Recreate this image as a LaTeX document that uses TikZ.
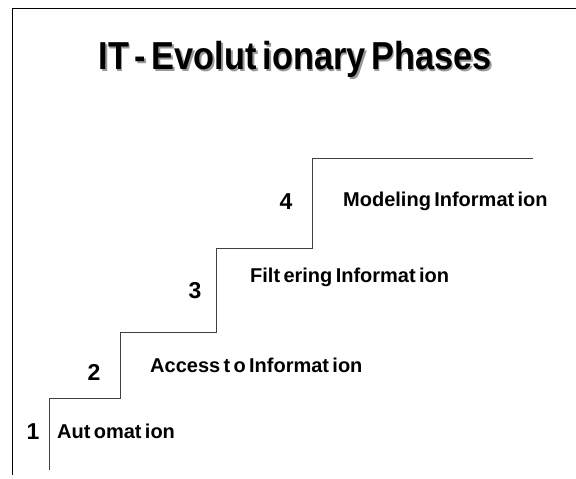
\documentclass[tikz,border=0pt]{standalone}
\usepackage{fontspec}
\setmainfont{Liberation Sans}[WordSpace=0.6]
\newcommand{\shadowed}[1]{\makebox[0pt][l]{\hspace{2bp}\raisebox{-2bp}{\textcolor{black!40}{#1}}}#1}
\begin{document}
\begin{tikzpicture}[x=1bp,y=-1bp,
  rule/.style={draw=black,line width=0.8bp},
  stair/.style={draw=black!75,line width=0.8bp},
  phase/.style={anchor=base west,inner sep=0pt,font=\fontsize{20bp}{22bp}\selectfont\bfseries},
  stepno/.style={anchor=base,inner sep=0pt,font=\fontsize{23bp}{26bp}\selectfont\bfseries},
  heading/.style={anchor=base,inner sep=0pt,font=\fontsize{39bp}{44bp}\selectfont\bfseries}]
\useasboundingbox (0,0) rectangle (576,479);
% page frame: top and left rules
\draw[rule] (576,8) -- (12,8) -- (12,475);
% title with drop shadow
\node[heading] (title) at (295,70) {\scalebox{0.88}[1]{\shadowed{IT - Evolut ionary Phases}}};
% staircase
\draw[stair] (49,470) -- (49,398) -- (120,398) -- (120,332) -- (216,332)
  -- (216,248) -- (312,248) -- (312,158) -- (533,158);
% step numbers
\node[stepno] (n1) at (33,439) {1};
\node[stepno] (n2) at (94,380) {2};
\node[stepno] (n3) at (195,298) {3};
\node[stepno] (n4) at (286,210) {4};
% phase labels
\node[phase] (p1) at (57,438) {Aut omat ion};
\node[phase] (p2) at (150,372) {Access t o Informat ion};
\node[phase] (p3) at (250,282) {Filt ering Informat ion};
\node[phase] (p4) at (343,207) {Modeling Informat ion};
\end{tikzpicture}
\end{document}
